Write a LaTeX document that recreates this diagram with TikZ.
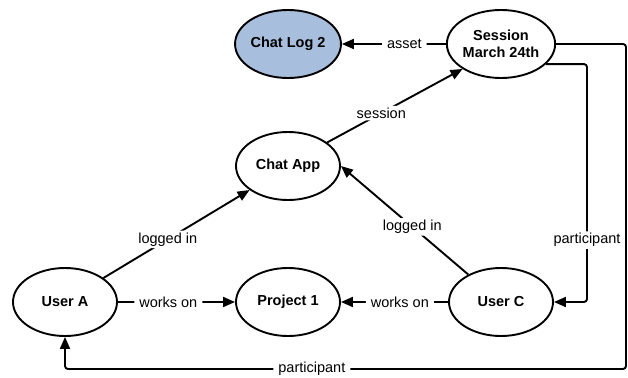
\documentclass[tikz,border=0pt]{standalone}
\usepackage{fontspec}
\setmainfont{Liberation Sans}
\usepackage{xcolor}
\usetikzlibrary{arrows.meta,positioning,shapes.geometric}
\definecolor{chatblue}{HTML}{A7BEDD}

\begin{document}
\begin{tikzpicture}[
  x=1pt, y=1pt, on grid,
  ent/.style={draw, ellipse, line width=1.9pt, minimum width=104pt, minimum height=68pt,
              inner sep=0pt, align=center, font=\fontsize{14.5}{17.5}\selectfont\bfseries},
  logbox/.style={ent, fill=chatblue},
  lbl/.style={fill=white, inner xsep=5pt, inner ysep=2pt, font=\fontsize{14.5}{16}\selectfont},
  arr/.style={-{Triangle[length=12pt, width=10pt]}, line width=1.9pt, rounded corners=3pt}
]
\useasboundingbox (0,0) rectangle (628,-377);
\node[ent] (usera) at (65,-302) {User A};
\node[ent, right=223pt of usera] (proj) {Project 1};
\node[ent, right=213pt of proj] (userc) {User C};
\node[ent, above=136pt of proj] (chatapp) {Chat App};
\node[logbox, above=122pt of chatapp] (chatlog) {Chat Log 2};
\node[ent, right=213pt of chatlog] (session) {Session\\March 24th};
\coordinate (railin) at (587,0);
\coordinate (railout) at (626,-369);

\draw[arr] (session) -- node[lbl, pos=0.4]{asset} (chatlog);
\draw[arr] (chatapp.31) -- node[lbl, pos=0.4]{session} (session.213);
\draw[arr] (usera.32) -- node[lbl, pos=0.44]{logged in} (chatapp.212);
\draw[arr] (userc.140) -- node[lbl, pos=0.44]{logged in} (chatapp.east);
\draw[arr] (usera) -- node[lbl, pos=0.43]{works on} (proj);
\draw[arr] (userc) -- node[lbl, pos=0.45]{works on} (proj);
\draw[arr] (session.-24) -| node[lbl, pos=0.87]{participant}
    (railin |- userc.east) -- (userc.east);
\draw[arr] (session.east) -| (railout) -| node[lbl, pos=0.28]{participant}
    (usera.south);
\end{tikzpicture}
\end{document}
